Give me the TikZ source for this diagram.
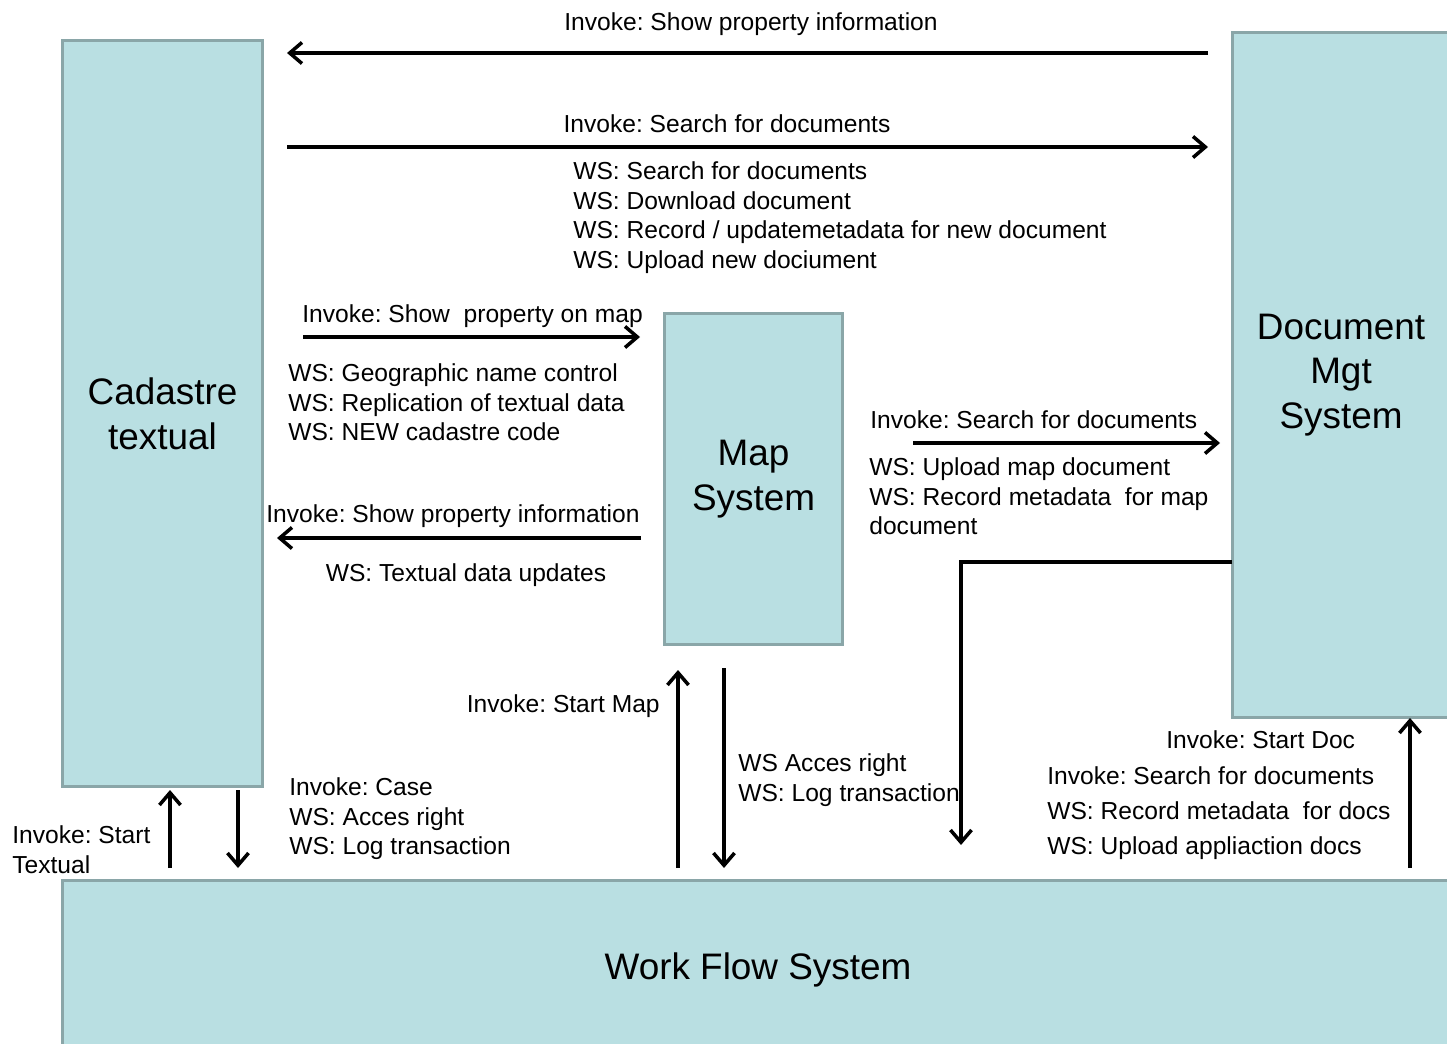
\documentclass[tikz,border=0pt]{standalone}
\usepackage{fontspec}
\setmainfont{Liberation Sans}
\usetikzlibrary{arrows.meta}
\definecolor{boxfill}{RGB}{185,223,226}
\definecolor{boxline}{RGB}{138,166,168}
\frenchspacing
\begin{document}
\begin{tikzpicture}[x=0.02cm,y=-0.02cm,
    sysbox/.style={draw=boxline,line width=1.7pt,fill=boxfill,inner sep=0pt,align=center,
      font=\fontsize{21}{25.5}\selectfont},
    flow/.style={line width=2pt,-{Straight Barb[length=7pt,width=12pt]}},
    lbl/.style={inner sep=0pt,align=left,font=\fontsize{14}{17}\selectfont}]
        \useasboundingbox (0,0) rectangle (1447,1044);
        \clip (0,0) rectangle (1447,1044);
        % The four systems
        \node[sysbox,minimum width=4.02cm,minimum height=14.94cm] (cad) at (162.5,413.5) {Cadastre\\textual};
        \node[sysbox,minimum width=4.36cm,minimum height=13.7cm] (doc) at (1341,375) {Document\\Mgt\\System};
        \node[sysbox,minimum width=3.58cm,minimum height=6.64cm] (map) at (753.5,479) {Map\\System};
        \node[sysbox,minimum width=27.84cm,minimum height=3.6cm] (wfs) at (758,970) {Work Flow System};
        % Free ends of the connectors
        \coordinate (t1) at (1208,53);   \coordinate (h1) at (287,53);
        \coordinate (t2) at (287,147);   \coordinate (h2) at (1208,147);
        \coordinate (t3) at (303,337);   \coordinate (h3) at (640,337);
        \coordinate (t4) at (641,538);   \coordinate (h4) at (277,538);
        \coordinate (t5) at (913,443);   \coordinate (h5) at (1220,443);
        \coordinate (t6) at (1232,562);  \coordinate (k6) at (961,562);  \coordinate (h6) at (961,845);
        \coordinate (t7) at (678,868);   \coordinate (h7) at (678,670);
        \coordinate (t8) at (724,668);   \coordinate (h8) at (724,868);
        \coordinate (t9) at (170,868);   \coordinate (h9) at (170,790);
        \coordinate (t10) at (238,790);  \coordinate (h10) at (238,868);
        \coordinate (t11) at (1410,868); \coordinate (h11) at (1410,718);
        % Document system <-> cadastre
        \draw[flow] (t1) -- (h1);
        \node[lbl,anchor=north] (l1) at (751,12) {Invoke: Show property information};
        \draw[flow] (t2) -- (h2);
        \node[lbl,anchor=north] (l2) at (727,114) {Invoke: Search for documents};
        \node[lbl,anchor=north west] (l3) at (573,161) {WS: Search for documents\\WS: Download document\\WS: Record / updatemetadata for new document\\WS: Upload new dociument};
        % Cadastre <-> map
        \draw[flow] (t3) -- (h3);
        \node[lbl,anchor=north west] (l4) at (302,304) {Invoke: Show~ property on map};
        \node[lbl,anchor=north west] (l5) at (288,363) {WS: Geographic name control\\WS: Replication of textual data\\WS: NEW cadastre code};
        \draw[flow] (t4) -- (h4);
        \node[lbl,anchor=north west] (l6) at (266,504) {Invoke: Show property information};
        \node[lbl,anchor=north] (l7) at (466,563) {WS: Textual data updates};
        % Map -> document system
        \draw[flow] (t5) -- (h5);
        \node[lbl,anchor=north west] (l8) at (870,410) {Invoke: Search for documents};
        \node[lbl,anchor=north west] (l9) at (869,457) {WS: Upload map document\\WS: Record metadata~ for map\\document};
        % Document system -> work flow
        \draw[flow] (t6) -- (k6) -- (h6);
        % Work flow <-> map
        \draw[flow] (t7) -- (h7);
        \node[lbl,anchor=north east] (l10) at (660,694) {Invoke: Start Map};
        \draw[flow] (t8) -- (h8);
        \node[lbl,anchor=north west] (l11) at (738,753) {WS Acces right\\WS: Log transaction};
        % Work flow <-> cadastre
        \draw[flow] (t9) -- (h9);
        \node[lbl,anchor=north west] (l12) at (12,825) {Invoke: Start\\Textual};
        \draw[flow] (t10) -- (h10);
        \node[lbl,anchor=north west] (l13) at (289,777) {Invoke: Case\\WS: Acces right\\WS: Log transaction};
        % Work flow -> document system
        \draw[flow] (t11) -- (h11);
        \node[lbl,anchor=north west] (l14) at (1166,730) {Invoke: Start Doc};
        \node[lbl,anchor=north west,font=\fontsize{14}{20}\selectfont] (l15) at (1047,766) {Invoke: Search for documents\\WS: Record metadata~ for docs\\WS: Upload appliaction docs};
      \end{tikzpicture}
\end{document}
